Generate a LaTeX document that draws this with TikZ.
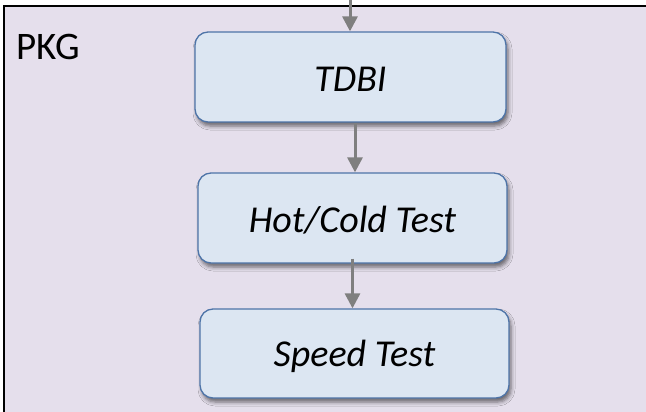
\documentclass[tikz,border=0pt]{standalone}
\usepackage{fontspec}
\setmainfont{Carlito}
\usetikzlibrary{arrows.meta,shadows.blur}
\definecolor{pkgbg}{HTML}{E5DFEC}
\definecolor{boxfill}{HTML}{DCE6F2}
\definecolor{boxline}{HTML}{4E74A8}
\definecolor{arrowgray}{HTML}{7F7F7F}
\tikzset{
  stepbox/.style={draw=boxline, line width=1.3pt, fill=boxfill, rounded corners=13pt,
    inner sep=0pt, text depth=0pt, font=\fontsize{38}{42}\selectfont\itshape,
    blur shadow={shadow xshift=2pt, shadow yshift=-4pt, shadow blur radius=4pt, shadow opacity=55}},
  flow/.style={draw=arrowgray, line width=3pt, -{Triangle[length=15pt,width=15pt]}}
}
\begin{document}
\begin{tikzpicture}[x=1pt,y=-1pt]
\useasboundingbox (0,0) rectangle (646,412);
\clip (0,0) rectangle (646,412);
\fill[white] (0,0) rectangle (646,412);
\fill[pkgbg] (4,6) rectangle (700,480);
\draw[line width=2pt] (700,6) -- (4,6) -- (4,480);
\node[anchor=base west, font=\fontsize{39}{42}\selectfont, inner sep=0pt] (pkg) at (16,60) {PKG};
\node[stepbox, minimum width=311pt, minimum height=90pt, text height=30pt] (tdbi) at (350.5,77) {TDBI};
\node[stepbox, minimum width=309pt, minimum height=90pt, text height=28pt] (hot) at (352.5,218) {Hot/Cold Test};
\node[stepbox, minimum width=309pt, minimum height=89pt, text height=25pt] (speed) at (354.5,353.5) {Speed Test};
\coordinate (in) at (350,-2);
\draw[flow] (in) -- (tdbi.north -| in);
\draw[flow] ([xshift=4.5pt]tdbi.south) -- ([xshift=4.5pt]tdbi.south |- hot.north);
\draw[flow, shorten <=-5pt] (hot.south) -- (hot.south |- speed.north);
\end{tikzpicture}
\end{document}
